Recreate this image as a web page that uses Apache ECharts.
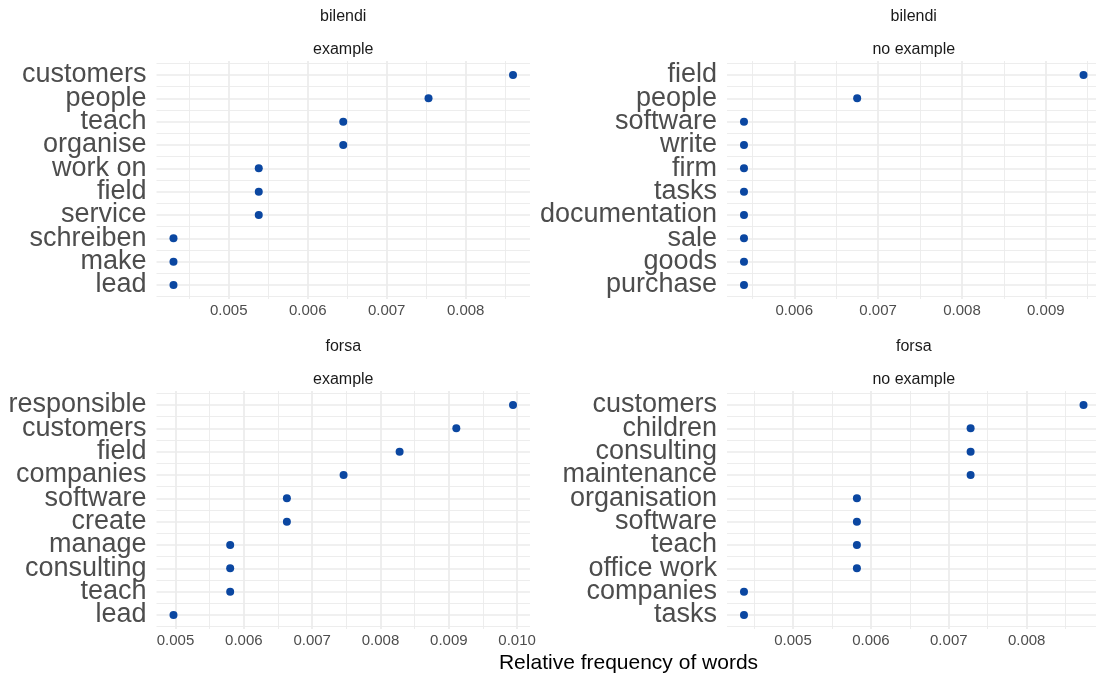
<!DOCTYPE html>
<html>
<head>
<meta charset="utf-8">
<script src="https://cdn.jsdelivr.net/npm/echarts@6/dist/echarts.min.js"></script>
<style>
html,body{margin:0;padding:0;background:#fff;}
#chart{width:1096px;height:679px;}
</style>
</head>
<body>
<div id="chart"></div>
<script>
// ---- data ----
const surveys = ['bilendi', 'forsa'];
const conditions = ['example', 'no example'];
const axisTitle = 'Relative frequency of words';

const bilendiExampleWords = ['customers','people','teach','organise','work on','field','service','schreiben','make','lead'];
const bilendiExampleValues = [0.00860, 0.00753, 0.00645, 0.00645, 0.00538, 0.00538, 0.00538, 0.00430, 0.00430, 0.00430];

const bilendiNoExampleWords = ['field','people','software','write','firm','tasks','documentation','sale','goods','purchase'];
const bilendiNoExampleValues = [0.00945, 0.00675, 0.00540, 0.00540, 0.00540, 0.00540, 0.00540, 0.00540, 0.00540, 0.00540];

const forsaExampleWords = ['responsible','customers','field','companies','software','create','manage','consulting','teach','lead'];
const forsaExampleValues = [0.00994, 0.00911, 0.00828, 0.00746, 0.00663, 0.00663, 0.00580, 0.00580, 0.00580, 0.00497];

const forsaNoExampleWords = ['customers','children','consulting','maintenance','organisation','software','teach','office work','companies','tasks'];
const forsaNoExampleValues = [0.00873, 0.00728, 0.00728, 0.00728, 0.00582, 0.00582, 0.00582, 0.00582, 0.00437, 0.00437];

// ---- layout / style ----
const panels = [
  {survey: surveys[0], cond: conditions[0], words: bilendiExampleWords, values: bilendiExampleValues, col: 0, row: 0},
  {survey: surveys[0], cond: conditions[1], words: bilendiNoExampleWords, values: bilendiNoExampleValues, col: 1, row: 0},
  {survey: surveys[1], cond: conditions[0], words: forsaExampleWords, values: forsaExampleValues, col: 0, row: 1},
  {survey: surveys[1], cond: conditions[1], words: forsaNoExampleWords, values: forsaNoExampleValues, col: 1, row: 1}
];
const colLeft = [156.5, 727];
const rowTop = [61, 391];
const panelW = 373.5;
const panelH = 238;
const dotColor = '#0B47A1';
const gridColor = '#EBEBEB';
const FONT = 'Liberation Sans';

const grids = [], xAxes = [], yAxes = [], series = [], graphics = [];

panels.forEach((p, k) => {
  const lo = Math.min(...p.values), hi = Math.max(...p.values);
  const pad = (hi - lo) * 0.05;
  const n = p.words.length;
  grids.push({
    left: colLeft[p.col], top: rowTop[p.row], width: panelW, height: panelH,
    containLabel: false, outerBoundsMode: 'none', show: false
  });
  xAxes.push({
    type: 'value', gridIndex: k, min: lo - pad, max: hi + pad,
    minInterval: 0.001, maxInterval: 0.001,
    axisLine: {show: false}, axisTick: {show: false},
    axisLabel: {
      show: true, margin: 4, color: '#4D4D4D', fontSize: 15, fontFamily: FONT,
      showMinLabel: false, showMaxLabel: false,
      formatter: v => v.toFixed(3)
    },
    splitLine: {show: true, showMinLine: false, showMaxLine: false, lineStyle: {color: gridColor, width: 1.7}},
    minorTick: {show: false, splitNumber: 2},
    minorSplitLine: {show: true, lineStyle: {color: gridColor, width: 0.9}}
  });
  yAxes.push({
    type: 'value', gridIndex: k, min: 0.4, max: n + 0.6, inverse: true,
    minInterval: 1, maxInterval: 1,
    axisLine: {show: false}, axisTick: {show: false},
    axisLabel: {
      show: true, margin: 10, color: '#4D4D4D', fontSize: 27, fontFamily: FONT,
      padding: [4, 0, 0, 0],
      showMinLabel: false, showMaxLabel: false,
      formatter: v => (Number.isInteger(v) && v >= 1 && v <= n) ? p.words[v - 1] : ''
    },
    splitLine: {show: true, showMinLine: false, showMaxLine: false, lineStyle: {color: gridColor, width: 1.7}},
    minorTick: {show: false, splitNumber: 2},
    minorSplitLine: {show: true, lineStyle: {color: gridColor, width: 0.9}}
  });
  series.push({
    type: 'scatter', xAxisIndex: k, yAxisIndex: k,
    symbol: 'circle', symbolSize: 8,
    itemStyle: {color: dotColor, opacity: 1},
    data: p.values.map((v, i) => [v, i + 1]),
    silent: true, z: 5
  });
  const cx = colLeft[p.col] + panelW / 2;
  const ty = rowTop[p.row] - 61 + 16.5;
  graphics.push({type: 'text', x: cx, y: ty, style: {text: p.survey, fill: '#1A1A1A', font: '16px "' + FONT + '"', textAlign: 'center', textVerticalAlign: 'middle'}});
  graphics.push({type: 'text', x: cx, y: ty + 33, style: {text: p.cond, fill: '#1A1A1A', font: '16px "' + FONT + '"', textAlign: 'center', textVerticalAlign: 'middle'}});
});

graphics.push({type: 'text', x: (colLeft[0] + colLeft[1] + panelW) / 2, y: 663,
  style: {text: axisTitle, fill: '#000000', font: '21px "' + FONT + '"', textAlign: 'center', textVerticalAlign: 'middle'}});

const chart = echarts.init(document.getElementById('chart'), null, {renderer: 'canvas'});
chart.setOption({
  backgroundColor: '#ffffff',
  animation: false,
  grid: grids,
  xAxis: xAxes,
  yAxis: yAxes,
  series: series,
  graphic: graphics
});
</script>
</body>
</html>
